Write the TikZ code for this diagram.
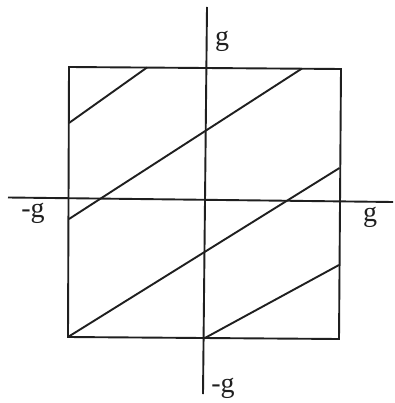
\documentclass[tikz,border=0pt]{standalone}
\usepackage{fontspec}
\setmainfont{Liberation Serif}
\begin{document}
\begin{tikzpicture}[x=1pt,y=-1pt,
  ln/.style={line width=1.9pt, draw=black!88},
  lab/.style={font=\fontsize{28}{28}\selectfont, inner sep=0pt, text=black!88}]
\useasboundingbox[fill=white] (0,0) rectangle (394,403);
% square corners
\coordinate (tl) at (69,67);
\coordinate (tr) at (341,69);
\coordinate (br) at (339,339);
\coordinate (bl) at (68,337);
\draw[ln] (tl) -- (tr) -- (br) -- (bl) -- cycle;
% axes
\coordinate (yt) at (207,7);
\coordinate (yb) at (203,394);
\coordinate (xl) at (8,197.5);
\coordinate (xr) at (393,202);
\draw[ln] (yt) -- (yb);
\draw[ln] (xl) -- (xr);
% diagonal lines
\coordinate (a1) at (69,123);  \coordinate (a2) at (147,67.5);
\coordinate (b1) at (69,219);  \coordinate (b2) at (302,68.5);
\coordinate (c1) at (68,337);  \coordinate (c2) at (339.5,168);
\coordinate (d1) at (204,338.5); \coordinate (d2) at (339,265);
\draw[ln] (a1) -- (a2);
\draw[ln] (b1) -- (b2);
\draw[ln] (c1) -- (c2);
\draw[ln] (d1) -- (d2);
% labels
\node[lab] (gt) at (222,41) {g};
\node[lab] (gl) at (33,213) {-g};
\node[lab] (gr) at (370,217) {g};
\node[lab] (gb) at (223,388) {-g};
\end{tikzpicture}
\end{document}
